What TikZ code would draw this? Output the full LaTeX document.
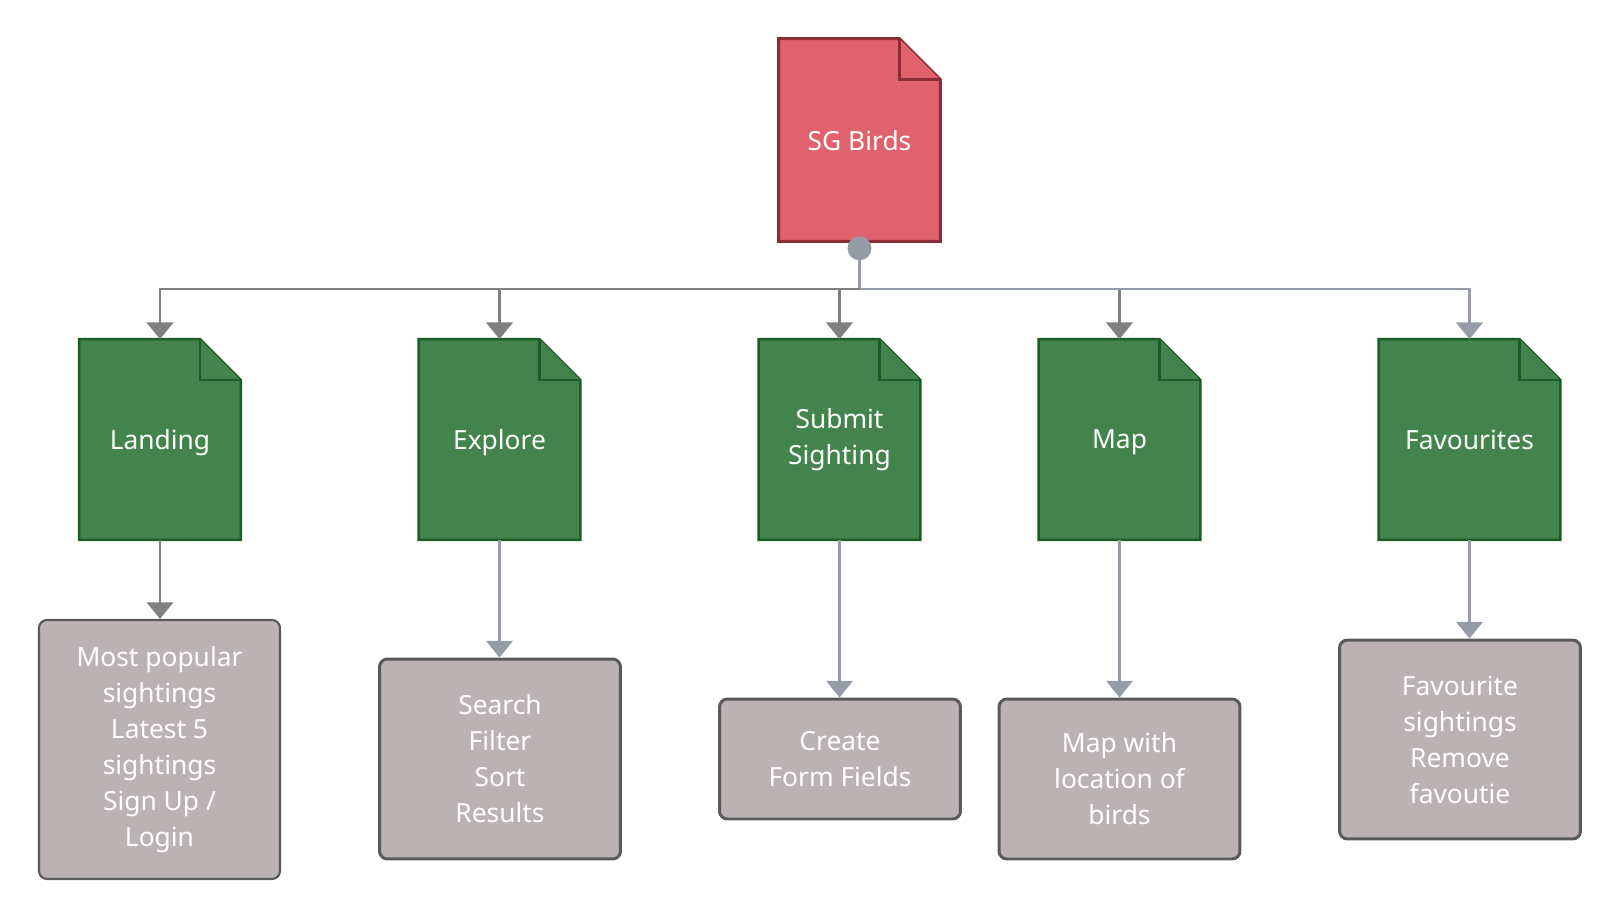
\documentclass[tikz,border=0pt]{standalone}
\usepackage{fontspec}
\setmainfont{Noto Sans}
\usetikzlibrary{arrows.meta,backgrounds,calc}

\definecolor{birdred}{HTML}{E0626C}
\definecolor{birdredline}{HTML}{8A2D38}
\definecolor{pagegreen}{HTML}{42844C}
\definecolor{pagegreenline}{HTML}{1D5B27}
\definecolor{leaffill}{HTML}{BBB3B3}
\definecolor{leafline}{HTML}{5A5A5A}
\definecolor{darkwire}{HTML}{808080}
\definecolor{bluewire}{HTML}{959CA8}

\tikzset{
  page/.style={minimum width=3.22cm, minimum height=4cm, inner sep=0pt,
    text=white, align=center, font=\fontsize{15}{20.5}\selectfont},
  oneline/.style={text depth=0pt},
  leaf/.style={draw=leafline, line width=1.7pt, fill=leaffill, rounded corners=4.5pt,
    minimum width=4.82cm, inner sep=0pt, text=white, align=center,
    font=\fontsize{15}{20.5}\selectfont},
  redpage/.style={fill=birdred, draw=birdredline, line width=1.7pt},
  greenpage/.style={fill=pagegreen, draw=pagegreenline, line width=1.5pt},
  darkarrow/.style={draw=darkwire, line width=1.7pt, -{Triangle[width=15pt,length=9.5pt]}},
  bluearrow/.style={draw=bluewire, line width=1.7pt, -{Triangle[width=15pt,length=9.5pt]}},
}

\begin{document}
\begin{tikzpicture}[x=0.02cm,y=-0.02cm]
  \useasboundingbox (0,0) rectangle (1620,920);

  % pages
  \node[page, oneline, minimum height=4.04cm] (sg) at (859.5,140) {SG Birds};
  \node[page, oneline] (landing) at (160,439.5) {Landing};
  \node[page, oneline] (explore) at (499.5,439.5) {Explore};
  \node[page] (submit) at (839.5,439.5) {Submit\\Sighting};
  \node[page, oneline] (map) at (1119.5,439.5) {Map};
  \node[page, oneline, minimum width=3.62cm] (favs) at (1469.5,439.5) {Favourites};

  % page outlines with folded corner
  \begin{scope}[on background layer]
    \foreach \n/\s in {sg/redpage,landing/greenpage,explore/greenpage,submit/greenpage,map/greenpage,favs/greenpage} {
      \filldraw[\s] (\n.south west) |- ($(\n.north east)+(-41,0)$)
        -- ($(\n.north east)+(0,41)$) |- cycle;
      \draw[\s] ($(\n.north east)+(-41,0)$) |- ($(\n.north east)+(0,41)$);
    }
  \end{scope}

  % contents
  \node[leaf, line width=1.2pt, minimum height=5.18cm] (landingbox) at (159.5,749.5)
    {Most popular\\sightings\\Latest 5\\sightings\\Sign Up /\\Login};
  \node[leaf, minimum height=4cm] (explorebox) at (500,759) {Search\\Filter\\Sort\\Results};
  \node[leaf, minimum height=2.4cm] (submitbox) at (840,759) {Create\\Form Fields};
  \node[leaf, minimum height=3.2cm] (mapbox) at (1119.5,779) {Map with\\location of\\birds};
  \node[leaf, minimum height=3.98cm] (favsbox) at (1460,739.5) {Favourite\\sightings\\Remove\\favoutie};

  % tree
  \coordinate (hub) at (859.5,289);
  \draw[draw=bluewire, line width=1.7pt, {Circle[length=13.6pt]}-, shorten <=-2.8pt] (sg.south) -- (hub);
  \draw[darkarrow] (hub) -| (map.north);
  \draw[bluearrow] (hub) -| (favs.north);
  \draw[darkarrow] (hub) -| (landing.north);
  \draw[darkarrow] (hub) -| (explore.north);
  \draw[darkarrow] (hub) -| (submit.north);

  \draw[darkarrow] (landing.south) -- (landing.south |- landingbox.north);
  \draw[bluearrow] (explore.south) -- (explore.south |- explorebox.north);
  \draw[bluearrow] (submit.south) -- (submit.south |- submitbox.north);
  \draw[bluearrow] (map.south) -- (map.south |- mapbox.north);
  \draw[bluearrow] (favs.south) -- (favs.south |- favsbox.north);
\end{tikzpicture}
\end{document}
